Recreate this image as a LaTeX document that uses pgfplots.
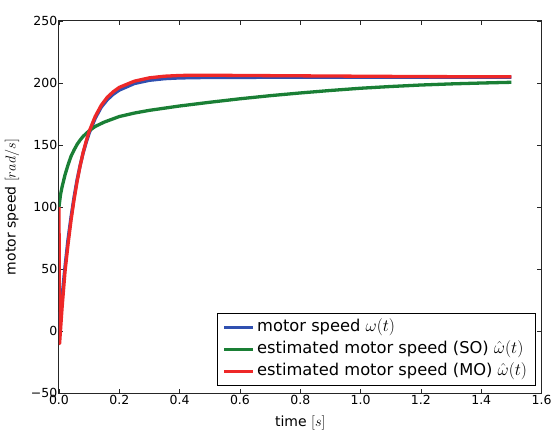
\documentclass[border=0pt]{standalone}
\usepackage{fontspec}
\setmainfont{DejaVu Sans}
\usepackage{pgfplots}
\pgfplotsset{compat=1.18}

\definecolor{mblue}{HTML}{3050B0}
\definecolor{mgreen}{HTML}{1A7F35}
\definecolor{mred}{HTML}{EE2828}

\begin{document}
\begin{tikzpicture}
\begin{axis}[
    name=ax,
    scale only axis,
    width=482.7bp, height=372.3bp,
    xmin=0, xmax=1.6, ymin=-50, ymax=250,
    xtick={0,0.2,...,1.6},
    xticklabels={0.0,0.2,0.4,0.6,0.8,1.0,1.2,1.4,1.6},
    ytick={-50,0,50,100,150,200,250},
    yticklabels={−50,0,50,100,150,200,250},
    tick align=inside,
    major tick length=4.5bp,
    axis line style={line width=1bp, black!85},
    tick style={line width=0.8bp, black!85},
    ticklabel style={font=\fontsize{12.5bp}{14bp}\selectfont, inner sep=1.5bp},
    xlabel={time $[s]$},
    ylabel={motor speed $[rad/s]$},
    label style={font=\fontsize{14bp}{16bp}\selectfont},
    xlabel style={at={(axis description cs:0.5,0)}, anchor=north, yshift=-19bp},
    ylabel style={at={(axis description cs:-0.075,0.5)}, anchor=south},
    legend cell align=left,
    legend style={at={(0.9876,0.0196)}, anchor=south east, draw=black,
        line width=1bp, font=\fontsize{16.3bp}{18bp}\selectfont,
        inner xsep=5bp, inner ysep=3bp, row sep=0.5bp,
        nodes={inner sep=3bp, text height=12bp, text depth=3.5bp}},
    legend image code/.code={\draw[#1, line width=3.3bp] (0bp,0bp) -- (27bp,0bp);
        \path (0bp,0bp) -- (28.5bp,0bp);},
    every axis plot/.append style={line width=3.3bp, line join=round},
]
\addplot[mblue] coordinates {
(0,0) (0.005,14) (0.01,27) (0.02,52) (0.03,74) (0.04,92) (0.05,108) (0.06,122)
(0.07,133.5) (0.08,143.5) (0.09,152) (0.10,159.5) (0.12,171.5) (0.14,180.5)
(0.16,186.5) (0.18,191) (0.20,194.3) (0.25,199.6) (0.30,202.2) (0.35,203.5)
(0.40,204.1) (0.5,204.5) (0.7,204.6) (1.0,204.6) (1.5,204.6)};
\addplot[mgreen] coordinates {
(0,100) (0.005,110) (0.01,116) (0.02,126) (0.03,134) (0.04,141) (0.05,146)
(0.06,150.5) (0.07,154) (0.08,157) (0.10,161.5) (0.12,165) (0.15,168.5)
(0.2,173) (0.25,175.8) (0.3,178) (0.4,181.5) (0.5,184.5) (0.6,187.3)
(0.7,189.8) (0.8,192) (0.9,194) (1.0,195.8) (1.1,197.2) (1.2,198.4)
(1.3,199.3) (1.4,200) (1.5,200.6)};
\addplot[mred] coordinates {
(0,100) (0.002,-10) (0.01,18) (0.02,48) (0.03,70) (0.04,89.5) (0.05,106)
(0.06,120.5) (0.07,133) (0.08,144) (0.09,153) (0.10,161) (0.12,173)
(0.14,182) (0.16,188.5) (0.18,193) (0.20,196.5) (0.25,201.5) (0.30,204.2)
(0.35,205.5) (0.40,206.1) (0.45,206.3) (0.5,206.3) (0.6,206.1) (0.8,205.8)
(1.0,205.5) (1.2,205.2) (1.5,205)};
\legend{motor speed $\omega(t)$,
        estimated motor speed (SO) $\hat{\omega}(t)$,
        estimated motor speed (MO) $\hat{\omega}(t)$}
\end{axis}
% page margins of the reference around the axis box
\path ([xshift=-59bp, yshift=21bp]ax.north west)
    rectangle ([xshift=11.3bp, yshift=-34bp]ax.south east);
\end{tikzpicture}
\end{document}
